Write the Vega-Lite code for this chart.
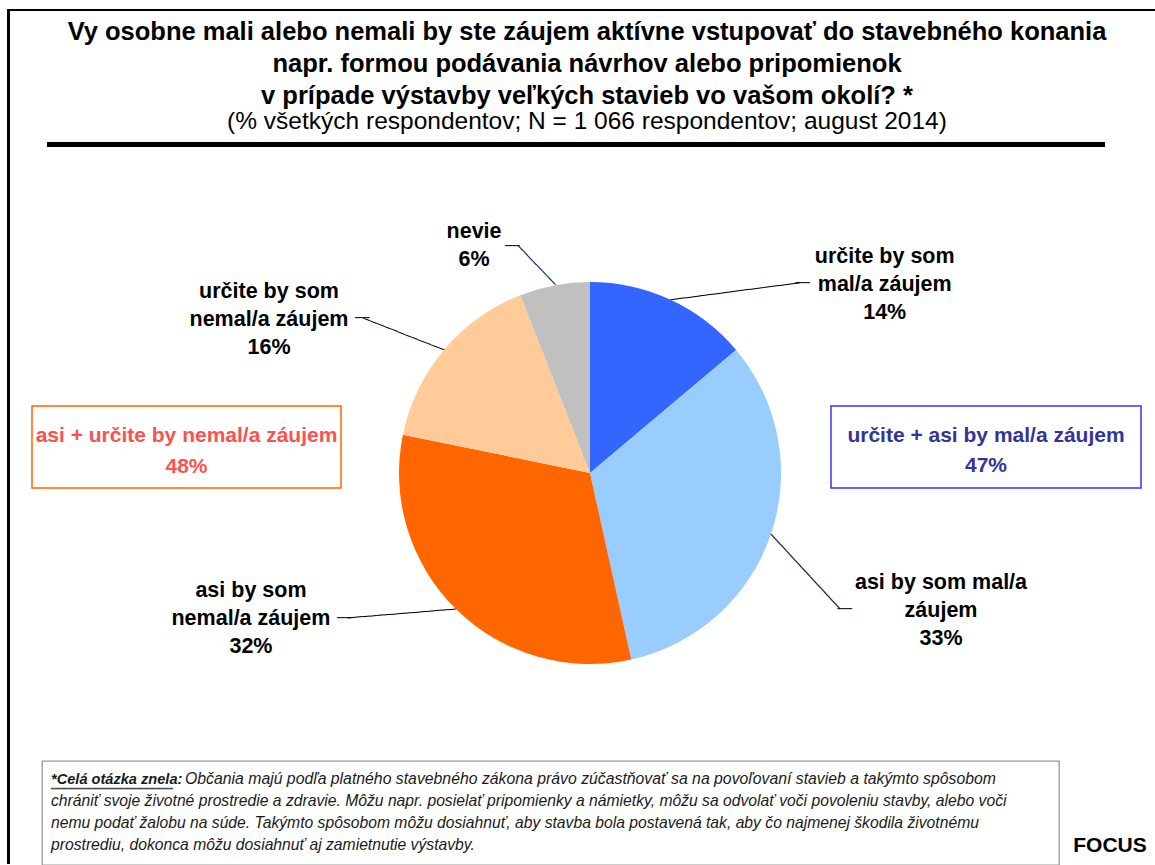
{
  "$schema": "https://vega.github.io/schema/vega-lite/v6.json",
  "padding": {"left": 7, "top": 9, "right": 0, "bottom": 0},
  "background": "white",
  "config": {"view": {"stroke": null}, "font": "Liberation Sans", "concat": {"spacing": 0}},
  "datasets": {
    "odpovede": [
      {"odpoved": "určite by som mal/a záujem", "popis": "určite by som\nmal/a záujem\n14%", "podiel": 14},
      {"odpoved": "asi by som mal/a záujem", "popis": "asi by som mal/a\nzáujem\n33%", "podiel": 33},
      {"odpoved": "asi by som nemal/a záujem", "popis": "asi by som\nnemal/a záujem\n32%", "podiel": 32},
      {"odpoved": "určite by som nemal/a záujem", "popis": "určite by som\nnemal/a záujem\n16%", "podiel": 16},
      {"odpoved": "nevie", "popis": "nevie\n6%", "podiel": 6}
    ],
    "suhrny": [
      {"skupina": "asi + určite by nemal/a záujem", "popis": "asi + určite by nemal/a záujem\n48%", "podiel": 48},
      {"skupina": "určite + asi by mal/a záujem", "popis": "určite + asi by mal/a záujem\n47%", "podiel": 47}
    ]
  },
  "spacing": 0,
  "hconcat": [
    {"width": 3, "height": 855, "view": {"fill": "#000000", "stroke": null}, "data": {"values": []}, "mark": "point"},
    {
      "spacing": 0,
      "vconcat": [
        {"width": 1145, "height": 2, "view": {"fill": "#000000", "stroke": null}, "data": {"values": []}, "mark": "point"},
        {
          "width": 1145, "height": 131,
          "data": {"values": [{}]},
          "layer": [
            {"mark": {"type": "text", "fontWeight": "bold", "fontSize": 25.5, "lineHeight": 32, "baseline": "alphabetic", "align": "center", "dx": 4.5, "dy": -37, "color": "#000000"},
             "encoding": {"text": {"value": ["Vy osobne mali alebo nemali by ste záujem aktívne vstupovať do stavebného konania", "napr. formou podávania návrhov alebo pripomienok", "v prípade výstavby veľkých stavieb vo vašom okolí? *"]}}},
            {"mark": {"type": "text", "fontSize": 24.5, "baseline": "alphabetic", "align": "center", "dx": 4.5, "dy": 52.5, "color": "#000000"},
             "encoding": {"text": {"value": "(% všetkých respondentov; N = 1 066 respondentov; august 2014)"}}}
          ]
        },
        {
          "spacing": 0,
          "hconcat": [
            {"width": 37, "height": 5, "data": {"values": []}, "mark": "point"},
            {"width": 1058, "height": 5, "view": {"fill": "#000000", "stroke": null}, "data": {"values": []}, "mark": "point"}
          ]
        },
        {"width": 1145, "height": 73, "data": {"values": []}, "mark": "point"},
        {
          "spacing": 0,
          "bounds": "flush",
          "hconcat": [
            {"width": 22, "height": 1, "data": {"values": []}, "mark": "point"},
            {
              "width": 309, "height": 82,
              "view": {"stroke": "#FF6600", "strokeWidth": 1.5},
              "data": {"name": "suhrny"},
              "transform": [{"filter": "datum.skupina === 'asi + určite by nemal/a záujem'"}],
              "mark": {"type": "text", "fontWeight": "bold", "fontSize": 21, "lineHeight": 31, "lineBreak": "\n", "baseline": "alphabetic", "align": "center", "dy": -5, "color": "#FF5050"},
              "encoding": {"text": {"field": "popis"}}
            },
            {"width": 10, "height": 1, "data": {"values": []}, "mark": "point"},
            {
              "width": 478, "height": 134,
              "data": {"name": "odpovede"},
              "transform": [
                {"window": [{"op": "row_number", "as": "poradie"}]},
                {"stack": "podiel", "groupby": [], "sort": [{"field": "poradie", "order": "ascending"}], "as": ["od", "po"]}
              ],
              "layer": [
                {
                  "mark": {"type": "arc", "outerRadius": 191},
                  "encoding": {
                    "theta": {"field": "podiel", "type": "quantitative", "stack": true},
                    "order": {"field": "poradie", "type": "quantitative"},
                    "color": {
                      "field": "odpoved", "type": "nominal", "legend": null,
                      "scale": {
                        "domain": ["určite by som mal/a záujem", "asi by som mal/a záujem", "asi by som nemal/a záujem", "určite by som nemal/a záujem", "nevie"],
                        "range": ["#3366FF", "#99CCFF", "#FF6600", "#FFCC99", "#C0C0C0"]
                      }
                    }
                  }
                },
                {
                  "transform": [{"filter": "datum.odpoved === 'určite by som mal/a záujem'"}],
                  "mark": {"type": "text", "radius": 191, "dx": 294.7, "dy": -19, "align": "center", "baseline": "alphabetic", "fontWeight": "bold", "fontSize": 21.5, "lineHeight": 28, "lineBreak": "\n", "color": "#000000"},
                  "encoding": {"theta": {"field": "od", "type": "quantitative"}, "text": {"field": "popis"}}
                },
                {
                  "transform": [{"filter": "datum.odpoved === 'asi by som mal/a záujem'"}],
                  "mark": {"type": "text", "radius": 191, "dx": 204.9, "dy": 239, "align": "center", "baseline": "alphabetic", "fontWeight": "bold", "fontSize": 21.5, "lineHeight": 28, "lineBreak": "\n", "color": "#000000"},
                  "encoding": {"theta": {"field": "od", "type": "quantitative"}, "text": {"field": "popis"}}
                },
                {
                  "transform": [{"filter": "datum.odpoved === 'asi by som nemal/a záujem'"}],
                  "mark": {"type": "text", "radius": 191, "dx": -380.3, "dy": -62.5, "align": "center", "baseline": "alphabetic", "fontWeight": "bold", "fontSize": 21.5, "lineHeight": 28, "lineBreak": "\n", "color": "#000000"},
                  "encoding": {"theta": {"field": "od", "type": "quantitative"}, "text": {"field": "popis"}}
                },
                {
                  "transform": [{"filter": "datum.odpoved === 'určite by som nemal/a záujem'"}],
                  "mark": {"type": "text", "radius": 191, "dx": -133.9, "dy": -136.7, "align": "center", "baseline": "alphabetic", "fontWeight": "bold", "fontSize": 21.5, "lineHeight": 28, "lineBreak": "\n", "color": "#000000"},
                  "encoding": {"theta": {"field": "od", "type": "quantitative"}, "text": {"field": "popis"}}
                },
                {
                  "transform": [{"filter": "datum.odpoved === 'nevie'"}],
                  "mark": {"type": "text", "radius": 191, "dx": -46.3, "dy": -57.2, "align": "center", "baseline": "alphabetic", "fontWeight": "bold", "fontSize": 21.5, "lineHeight": 28, "lineBreak": "\n", "color": "#000000"},
                  "encoding": {"theta": {"field": "od", "type": "quantitative"}, "text": {"field": "popis"}}
                },
                {
                  "transform": [{"filter": "datum.odpoved === 'určite by som mal/a záujem'"}],
                  "mark": {"type": "text", "radius": 191, "font": "DejaVu Sans Mono", "fontSize": 12, "align": "left", "baseline": "middle", "angle": -7.5, "dx": 77.6, "dy": 28.2, "color": "#000000"},
                  "encoding": {"theta": {"field": "od", "type": "quantitative"}, "text": {"value": "──────────────────"}}
                },
                {
                  "transform": [{"filter": "datum.odpoved === 'určite by som mal/a záujem'"}],
                  "mark": {"type": "text", "radius": 191, "font": "DejaVu Sans Mono", "fontSize": 12, "align": "right", "baseline": "middle", "dx": 220, "dy": 1, "color": "#000000"},
                  "encoding": {"theta": {"field": "od", "type": "quantitative"}, "text": {"value": "──"}}
                },
                {
                  "transform": [{"filter": "datum.odpoved === 'asi by som mal/a záujem'"}],
                  "mark": {"type": "text", "radius": 191, "font": "DejaVu Sans Mono", "fontSize": 12, "align": "left", "baseline": "middle", "angle": 47.3, "dx": 159.0, "dy": 99.4, "color": "#000000"},
                  "encoding": {"theta": {"field": "od", "type": "quantitative"}, "text": {"value": "──────────────"}}
                },
                {
                  "transform": [{"filter": "datum.odpoved === 'asi by som mal/a záujem'"}],
                  "mark": {"type": "text", "radius": 191, "font": "DejaVu Sans Mono", "fontSize": 12, "align": "right", "baseline": "middle", "dx": 115.9, "dy": 258.7, "color": "#000000"},
                  "encoding": {"theta": {"field": "od", "type": "quantitative"}, "text": {"value": "──"}}
                },
                {
                  "transform": [{"filter": "datum.odpoved === 'asi by som nemal/a záujem'"}],
                  "mark": {"type": "text", "radius": 191, "font": "DejaVu Sans Mono", "fontSize": 12, "align": "right", "baseline": "middle", "angle": -4.7, "dx": -170.6, "dy": -64.6, "color": "#000000"},
                  "encoding": {"theta": {"field": "od", "type": "quantitative"}, "text": {"value": "───────────────"}}
                },
                {
                  "transform": [{"filter": "datum.odpoved === 'asi by som nemal/a záujem'"}],
                  "mark": {"type": "text", "radius": 191, "font": "DejaVu Sans Mono", "fontSize": 12, "align": "left", "baseline": "middle", "dx": -294.3, "dy": -41.5, "color": "#000000"},
                  "encoding": {"theta": {"field": "od", "type": "quantitative"}, "text": {"value": "──"}}
                },
                {
                  "transform": [{"filter": "datum.odpoved === 'určite by som nemal/a záujem'"}],
                  "mark": {"type": "text", "radius": 191, "font": "DejaVu Sans Mono", "fontSize": 12, "align": "right", "baseline": "middle", "angle": 21.4, "dx": 7.3, "dy": -93.8, "color": "#000000"},
                  "encoding": {"theta": {"field": "od", "type": "quantitative"}, "text": {"value": "────────────"}}
                },
                {
                  "transform": [{"filter": "datum.odpoved === 'určite by som nemal/a záujem'"}],
                  "mark": {"type": "text", "radius": 191, "font": "DejaVu Sans Mono", "fontSize": 12, "align": "left", "baseline": "middle", "dx": -47.9, "dy": -116.3, "color": "#000000"},
                  "encoding": {"theta": {"field": "od", "type": "quantitative"}, "text": {"value": "──"}}
                },
                {
                  "transform": [{"filter": "datum.odpoved === 'nevie'"}],
                  "mark": {"type": "text", "radius": 191, "font": "DejaVu Sans Mono", "fontSize": 11.3, "align": "right", "baseline": "middle", "angle": 46.4, "dx": 16.5, "dy": -31.7, "color": "#000000"},
                  "encoding": {"theta": {"field": "od", "type": "quantitative"}, "text": {"value": "────────"}}
                },
                {
                  "transform": [{"filter": "datum.odpoved === 'nevie'"}],
                  "mark": {"type": "text", "radius": 191, "font": "DejaVu Sans Mono", "fontSize": 12, "align": "left", "baseline": "middle", "dx": -15.3, "dy": -49.3, "color": "#000000"},
                  "encoding": {"theta": {"field": "od", "type": "quantitative"}, "text": {"value": "──"}}
                }
              ]
            },
            {"width": 2, "height": 1, "data": {"values": []}, "mark": "point"},
            {
              "width": 310, "height": 82,
              "view": {"stroke": "#3333FF", "strokeWidth": 1.5},
              "data": {"name": "suhrny"},
              "transform": [{"filter": "datum.skupina === 'určite + asi by mal/a záujem'"}],
              "mark": {"type": "text", "fontWeight": "bold", "fontSize": 21, "lineHeight": 30, "lineBreak": "\n", "baseline": "alphabetic", "align": "center", "dy": -5, "color": "#333399"},
              "encoding": {"text": {"field": "popis"}}
            }
          ]
        },
        {"width": 1145, "height": 96, "data": {"values": []}, "mark": "point"},
        {
          "spacing": 0,
          "hconcat": [
            {"width": 31, "height": 1, "data": {"values": []}, "mark": "point"},
            {
              "width": 1017, "height": 104,
              "view": {"stroke": "#999999", "strokeWidth": 1.3},
              "data": {"values": [{}]},
              "layer": [
                {"mark": {"type": "text", "align": "left", "baseline": "alphabetic", "dx": -499.5, "dy": -29, "fontStyle": "italic", "fontWeight": "bold", "fontSize": 14.6, "color": "#1a1a1a"},
                 "encoding": {"text": {"value": "*Celá otázka znela:"}}},
                {"mark": {"type": "text", "font": "DejaVu Sans Mono", "fontSize": 1.3, "align": "left", "baseline": "alphabetic", "dx": -499.5, "dy": -23.5, "color": "#1a1a1a"},
                 "encoding": {"text": {"value": "████████████████████████████████████████████████████████████████████████████████████████████████████████████████████████████████████████████████████████████"}}},
                {"mark": {"type": "text", "align": "left", "baseline": "alphabetic", "dx": -365.5, "dy": -29, "fontStyle": "italic", "fontSize": 15.8, "color": "#1a1a1a"},
                 "encoding": {"text": {"value": "Občania majú podľa platného stavebného zákona právo zúčastňovať sa na povoľovaní stavieb a takýmto spôsobom"}}},
                {"mark": {"type": "text", "align": "left", "baseline": "alphabetic", "dx": -499.5, "dy": -7, "lineHeight": 22, "fontStyle": "italic", "fontSize": 15.7, "color": "#1a1a1a"},
                 "encoding": {"text": {"value": ["chrániť svoje životné prostredie a zdravie. Môžu napr. posielať pripomienky a námietky, môžu sa odvolať voči povoleniu stavby, alebo voči", "nemu podať žalobu na súde. Takýmto spôsobom môžu dosiahnuť, aby stavba bola postavená tak, aby čo najmenej škodila životnému", "prostrediu, dokonca môžu dosiahnuť aj zamietnutie výstavby."]}}}
              ]
            },
            {"width": 5, "height": 1, "data": {"values": []}, "mark": "point"},
            {
              "spacing": 0,
              "vconcat": [
                {"width": 90, "height": 73, "data": {"values": []}, "mark": "point"},
                {"width": 90, "height": 24, "data": {"values": [{}]}, "mark": {"type": "text", "fontWeight": "bold", "fontSize": 21, "baseline": "middle", "align": "center", "color": "#000000"}, "encoding": {"text": {"value": "FOCUS"}}}
              ]
            }
          ]
        }
      ]
    }
  ]
}
